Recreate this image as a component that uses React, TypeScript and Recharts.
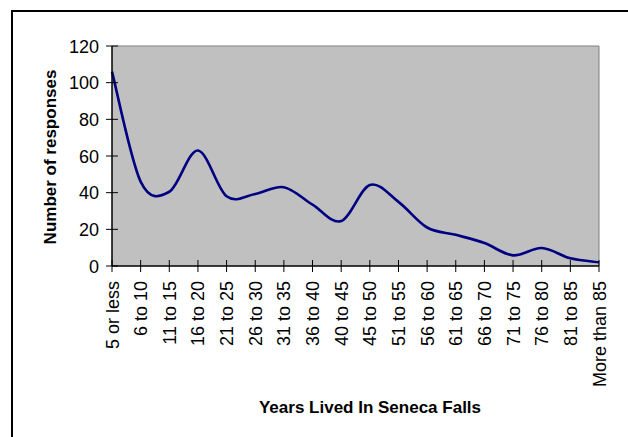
import React from 'react';
import { LineChart, Line, XAxis, YAxis, CartesianGrid, ReferenceLine, Label } from 'recharts';

const categories = [
  '5 or less', '6 to 10', '11 to 15', '16 to 20', '21 to 25', '26 to 30',
  '31 to 35', '36 to 40', '40 to 45', '45 to 50', '51 to 55', '56 to 60',
  '61 to 65', '66 to 70', '71 to 75', '76 to 80', '81 to 85', 'More than 85',
];
const responses = [106, 46, 40.5, 63, 38, 39.3, 43, 33.5, 24.5, 44.2, 35, 21, 17, 12.5, 5.8, 9.8, 4.2, 2];
const yTicks = [0, 20, 40, 60, 80, 100, 120];

const data = categories.map((label, i) => ({ label, value: responses[i] }));

const FONT = '"Liberation Sans", Arial, sans-serif';

// Excel-like smoothing: uniform Catmull-Rom through the points as cubic beziers
const excelSmooth = (context: any) => {
  let pts: number[][] = [];
  return {
    areaStart() {},
    areaEnd() {},
    lineStart() { pts = []; },
    point(x: number, y: number) { pts.push([+x, +y]); },
    lineEnd() {
      const n = pts.length;
      if (!n) return;
      context.moveTo(pts[0][0], pts[0][1]);
      for (let i = 0; i < n - 1; i++) {
        const p0 = pts[Math.max(i - 1, 0)];
        const p1 = pts[i];
        const p2 = pts[i + 1];
        const p3 = pts[Math.min(i + 2, n - 1)];
        context.bezierCurveTo(
          p1[0] + (p2[0] - p0[0]) / 6, p1[1] + (p2[1] - p0[1]) / 6,
          p2[0] - (p3[0] - p1[0]) / 6, p2[1] - (p3[1] - p1[1]) / 6,
          p2[0], p2[1],
        );
      }
    },
  };
};

const YTick = (props: any) => {
  const { x, y, payload } = props;
  return (
    <g>
      <line x1={x - 6} x2={x + 6} y1={y} y2={y} stroke="#000" strokeWidth={1} />
      <text x={x - 13} y={y + 6.5} textAnchor="end" fontSize={18} fontFamily={FONT} fill="#000">
        {payload.value}
      </text>
    </g>
  );
};

const XTick = (props: any) => {
  const { x, y, payload } = props;
  return (
    <g>
      <line x1={x} x2={x} y1={y - 6} y2={y + 6} stroke="#000" strokeWidth={1} />
      <text
        x={0}
        y={0}
        transform={`translate(${x + 6.5}, ${y + 15}) rotate(-90)`}
        textAnchor="end"
        fontSize={18}
        fontFamily={FONT}
        fill="#000"
      >
        {payload.value}
      </text>
    </g>
  );
};

export default function App() {
  return (
    <div style={{ position: 'fixed', left: 0, top: 0, width: 628, height: 437, overflow: 'hidden', background: '#fff' }}>
      <div
        style={{
          position: 'absolute', left: 11, top: 10, width: 700, height: 500,
          border: '2px solid #000', boxSizing: 'border-box',
        }}
      />
      <div style={{ position: 'absolute', left: 0, top: 0 }}>
        <LineChart width={628} height={437} data={data} margin={{ top: 46, right: 29, left: 0, bottom: 0 }}>
          <CartesianGrid fill="#C0C0C0" horizontal={false} vertical={false} />
          <ReferenceLine y={120} stroke="#808080" strokeWidth={1} />
          <ReferenceLine x="More than 85" stroke="#808080" strokeWidth={1} />
          <XAxis
            dataKey="label"
            type="category"
            interval={0}
            height={171}
            tickLine={false}
            tickSize={0}
            tickMargin={0}
            axisLine={{ stroke: '#000', strokeWidth: 1.5 }}
            tick={<XTick />}
          >
            <Label
              content={() => (
                <text x={370} y={413} textAnchor="middle" fontSize={17} fontWeight="bold" fontFamily={FONT} fill="#000">
                  Years Lived In Seneca Falls
                </text>
              )}
            />
          </XAxis>
          <YAxis
            type="number"
            domain={[0, 120]}
            ticks={yTicks}
            interval={0}
            width={112}
            tickLine={false}
            tickSize={0}
            tickMargin={0}
            axisLine={{ stroke: '#000', strokeWidth: 1.5 }}
            tick={<YTick />}
          >
            <Label
              content={() => (
                <text
                  x={0}
                  y={0}
                  transform="translate(56, 157) rotate(-90)"
                  textAnchor="middle"
                  fontSize={17}
                  fontWeight="bold"
                  fontFamily={FONT}
                  fill="#000"
                >
                  Number of responses
                </text>
              )}
            />
          </YAxis>
          <Line
            dataKey="value"
            type={excelSmooth as any}
            stroke="#000080"
            strokeWidth={2.6}
            dot={false}
            isAnimationActive={false}
          />
        </LineChart>
      </div>
    </div>
  );
}
